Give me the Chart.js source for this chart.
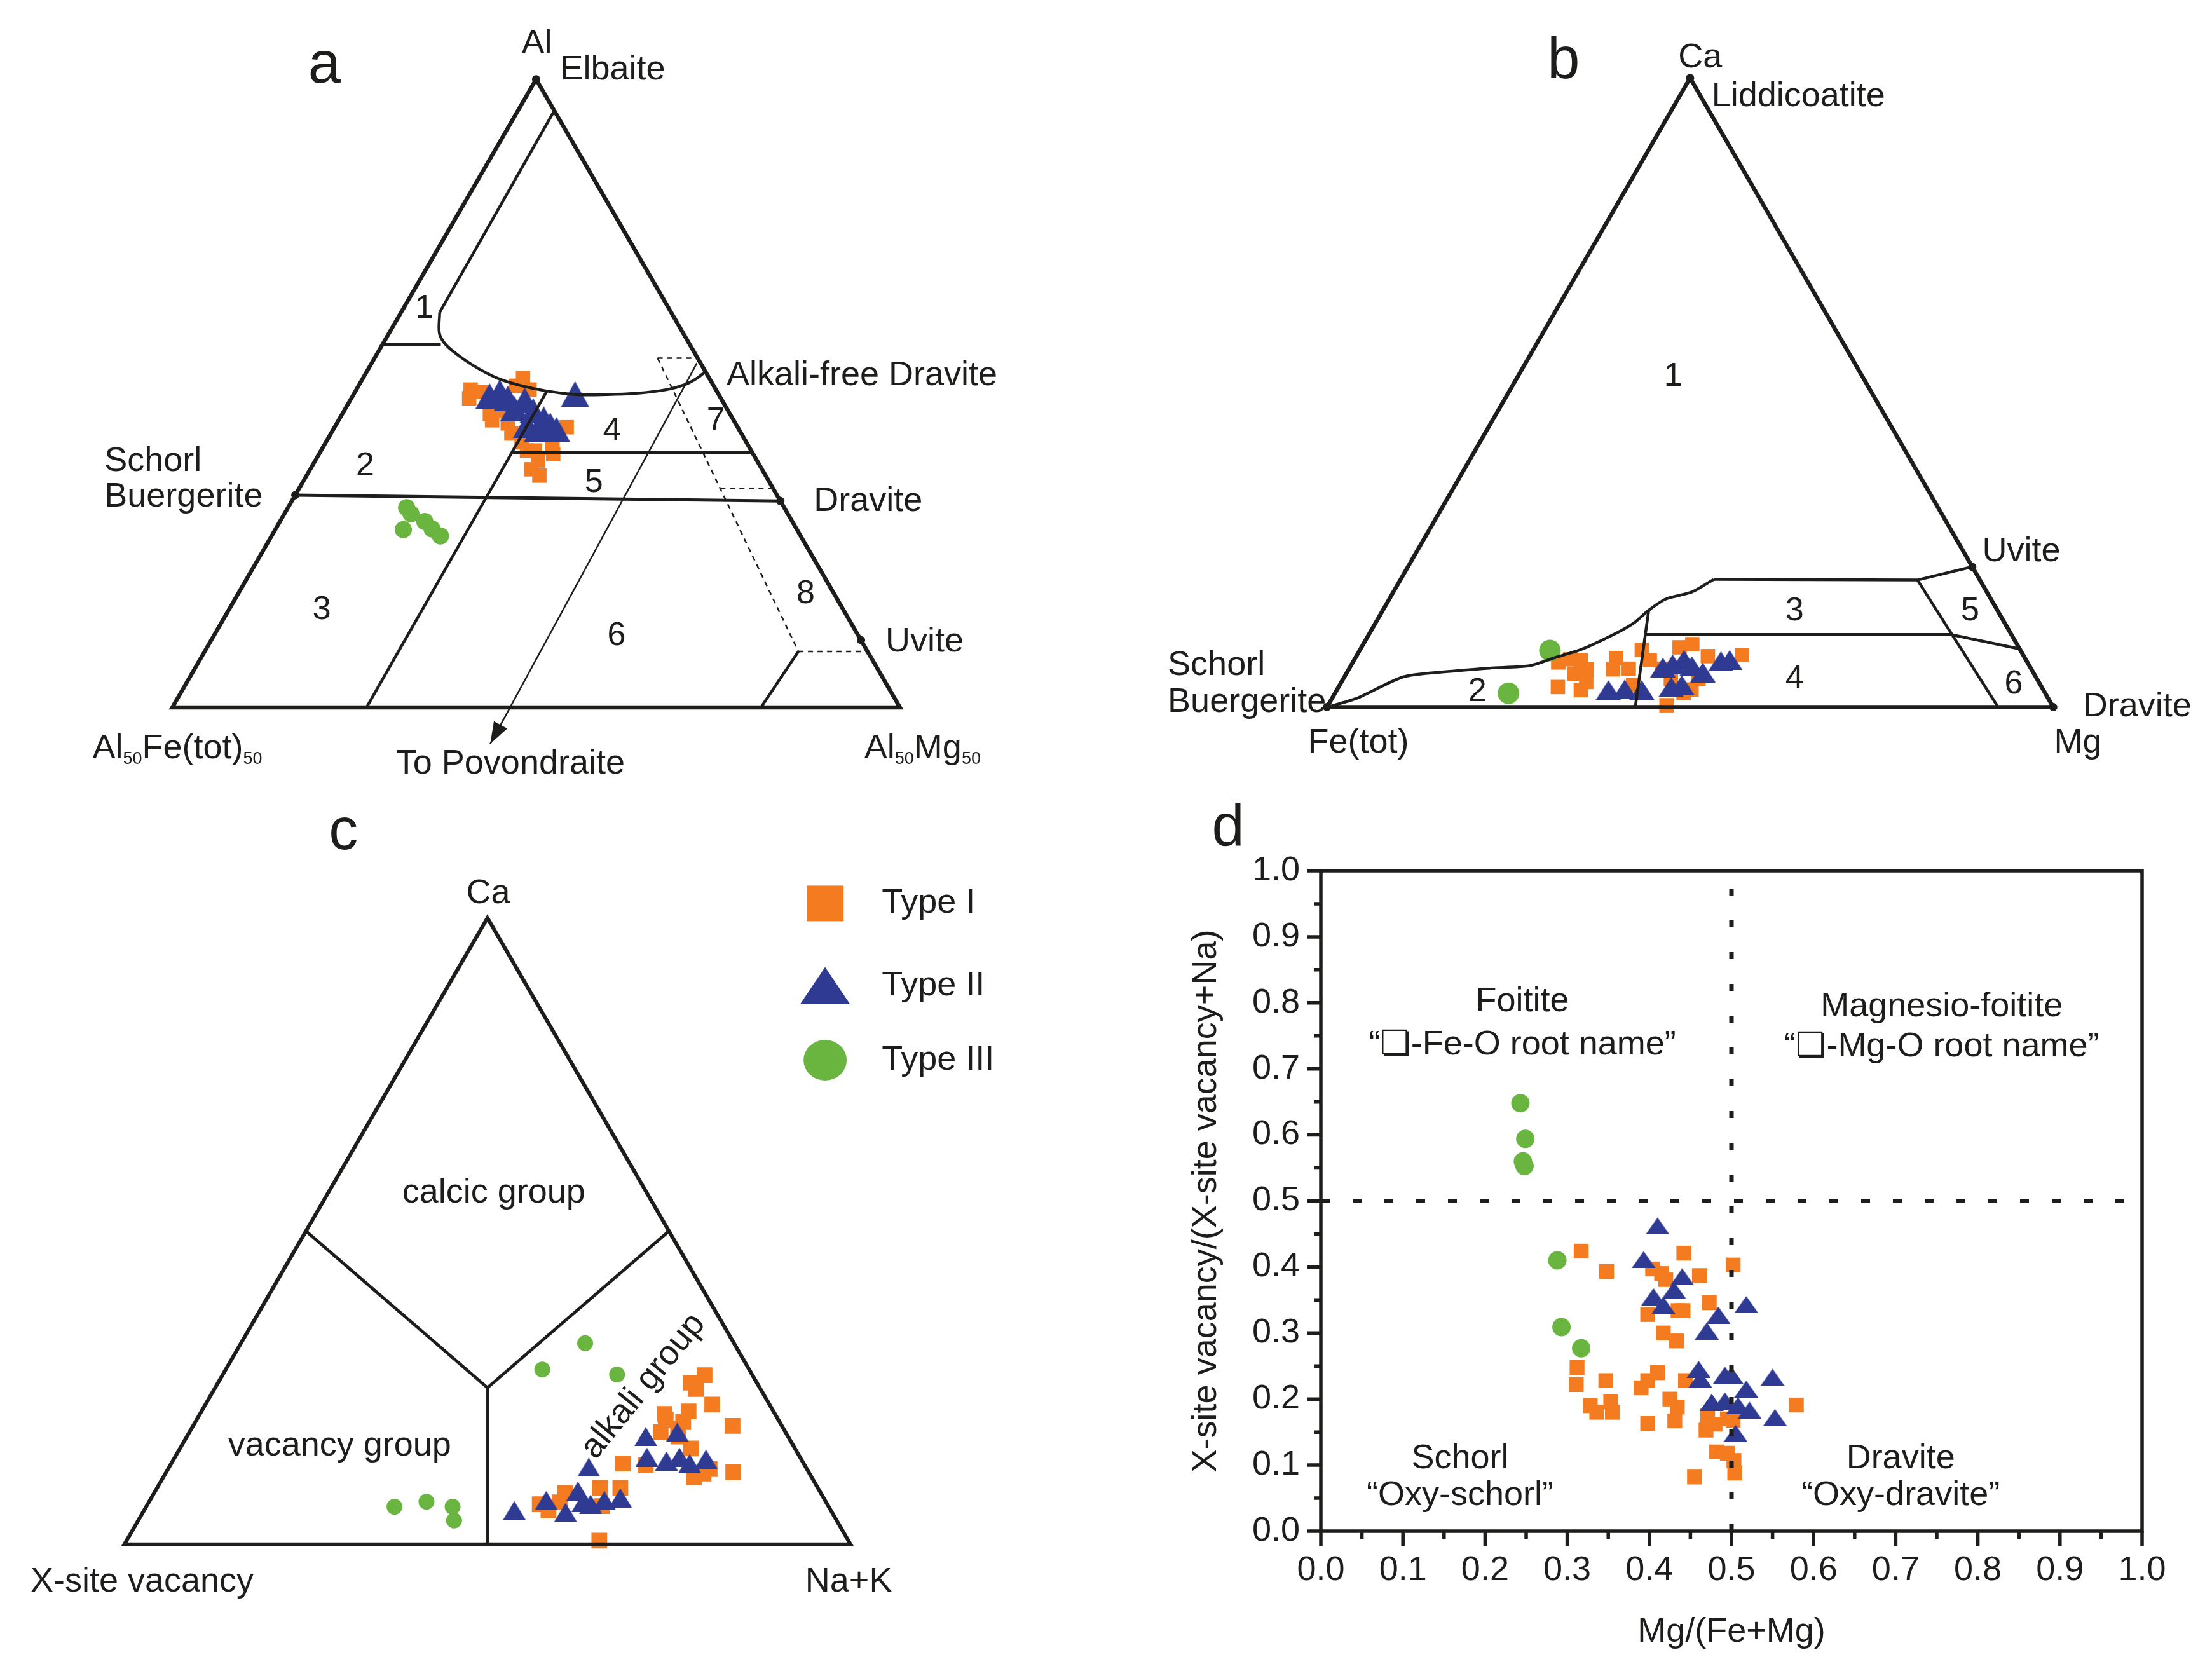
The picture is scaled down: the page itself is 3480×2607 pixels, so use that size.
<!DOCTYPE html>
<html>
<head>
<meta charset="utf-8">
<script src="https://cdn.jsdelivr.net/npm/chart.js@4/dist/chart.umd.min.js"></script>
<style>
  html, body { margin: 0; padding: 0; background: #fff; }
  #page { position: relative; width: 3480px; height: 2607px; overflow: hidden; background: #fff; }
  #page canvas { position: absolute; left: 0; top: 0; }
</style>
</head>
<body>
<div id="page">
  <canvas id="chartA" width="3480" height="2607"></canvas>
  <canvas id="chartB" width="3480" height="2607"></canvas>
  <canvas id="chartC" width="3480" height="2607"></canvas>
  <canvas id="chartD" width="3480" height="2607"></canvas>
</div>
<script>
const W = 3480, H = 2607;
const FONT = '"Liberation Sans", Arial, "DejaVu Sans", sans-serif';
const INK = '#1d1d1b';
const ORANGE = '#f47b20', BLUE = '#2f3b93', GREEN = '#6ab540';
const SQ3 = Math.sqrt(3) / 2;

// ---------- panel a : Al - Al50Fe(tot)50 - Al50Mg50, points as [Al, Al50Mg50]
const aTypeI = [[0.506,0.157],[0.492,0.162],[0.502,0.173],[0.467,0.203],[0.457,0.211],[0.452,0.235],[0.436,0.248],
  [0.524,0.220],[0.506,0.238],[0.422,0.269],[0.409,0.283],[0.413,0.316],[0.403,0.322],[0.393,0.306],[0.379,0.304],
  [0.369,0.320],[0.446,0.319],[0.472,0.214],[0.512,0.216],[0.409,0.294]];
const aTypeII = [[0.496,0.188],[0.502,0.199],[0.492,0.215],[0.476,0.232],[0.489,0.240],[0.472,0.260],[0.459,0.281],
  [0.449,0.295],[0.442,0.281],[0.449,0.263],[0.442,0.307],[0.499,0.304]];
const aTypeIII = [[0.318,0.163],[0.308,0.174],[0.283,0.176],[0.296,0.199],[0.284,0.215],[0.273,0.232]];
// field boundaries
const aEdge = [[0,0.5],[0,1],[1,0],[0,0],[0,0.5]];
const aLine1 = [[0.95,0.05],[0.629,0.053]];
const aCurve = [[0.629,0.053],[0.596,0.069],[0.580,0.084],[0.564,0.107],[0.544,0.142],[0.524,0.185],[0.512,0.224],
  [0.504,0.261],[0.498,0.306],[0.498,0.348],[0.500,0.388],[0.506,0.427],[0.514,0.448],[0.524,0.459],[0.534,0.465]];
const aField1 = [[0.578,0],[0.578,0.08]];
const aLine2 = [[0.503,0.263],[0,0.267]];
const aLine45 = [[0.406,0.265],[0.406,0.594]];
const aLine56 = [[0.338,0],[0.3285,0.6715]];
const aCorner = [[0,0.809],[0.089,0.816]];
const aDotted = [
  [[0.556,0.389],[0.556,0.444]],
  [[0.556,0.389],[0.089,0.816]],
  [[0.3485,0.579],[0.3485,0.6515]],
  [[0.089,0.816],[0.089,0.911]]
];
const aArrow = [[0.548,0.447],[-0.058,0.466]];
const aVertices = [[1,0],[0.338,0],[0.3285,0.6715],[0.107,0.893]];

// ---------- panel b : Ca - Fe(tot) - Mg, points as [Ca, Mg]
const bTypeI = [[0.071,0.283],[0.076,0.297],[0.075,0.312],[0.060,0.328],[0.040,0.337],[0.027,0.336],[0.053,0.314],
  [0.032,0.302],[0.078,0.359],[0.060,0.364],[0.091,0.388],[0.075,0.407],[0.061,0.431],[0.045,0.451],[0.095,0.438],
  [0.100,0.453],[0.028,0.488],[0.045,0.489],[0.003,0.466],[0.081,0.484],[0.083,0.530],[0.061,0.385],[0.035,0.404],
  [0.022,0.480]];
const bTypeII = [[0.027,0.374],[0.028,0.396],[0.027,0.420],[0.063,0.431],[0.068,0.442],[0.075,0.454],[0.065,0.470],
  [0.055,0.490],[0.032,0.458],[0.035,0.471],[0.073,0.506],[0.075,0.517]];
const bTypeIII = [[0.090,0.262],[0.022,0.239]];
const bEdge = [[0,0.5],[0,1],[1,0],[0,0],[0,0.5]];
const bCurve = [[0,0],[0.014,0.034],[0.048,0.081],[0.056,0.133],[0.062,0.193],[0.066,0.247],[0.078,0.273],
  [0.092,0.305],[0.118,0.340],[0.134,0.356],[0.154,0.366],[0.172,0.381],[0.183,0.411],[0.203,0.431]];
const bTop = [[0.203,0.431],[0.202,0.712],[0.223,0.777]];
const bVert = [[0.154,0.366],[0,0.4245]];
const bMid = [[0.1155,0.3795],[0.1155,0.801],[0.0924,0.9076]];
const bSlant = [[0.202,0.712],[0,0.924]];
const bVertices = [[1,0],[0,0],[0,1],[0.223,0.777]];

// ---------- panel c : Ca - X-site vacancy - Na+K, points as [Ca, Na+K]
const cTypeI = [[0.270,0.664],[0.258,0.651],[0.248,0.663],[0.223,0.698],[0.189,0.743],[0.208,0.640],[0.199,0.646],
  [0.195,0.672],[0.185,0.670],[0.179,0.649],[0.153,0.704],[0.129,0.622],[0.126,0.655],[0.120,0.746],[0.107,0.731],
  [0.115,0.781],[0.113,0.741],[0.090,0.610],[0.090,0.638],[0.082,0.566],[0.064,0.540],[0.054,0.557],[0.067,0.566],
  [0.061,0.627],[0.006,0.651],[0.172,0.677],[0.212,0.671]];
const cTypeII = [[0.054,0.510],[0.070,0.546],[0.051,0.582],[0.085,0.582],[0.123,0.578],[0.067,0.598],[0.070,0.626],
  [0.074,0.646],[0.172,0.632],[0.179,0.672],[0.139,0.650],[0.133,0.680],[0.139,0.695],[0.129,0.714],[0.136,0.733],
  [0.064,0.610]];
const cTypeIII = [[0.060,0.342],[0.068,0.382],[0.060,0.422],[0.038,0.435],[0.279,0.436],[0.321,0.474],[0.271,0.543]];
const cEdge = [[0,0.5],[0,1],[1,0],[0,0],[0,0.5]];
const cGroups = [[0.5,0],[0.25,0.375],[0.5,0.5]];
const cStem = [[0.25,0.375],[0,0.5]];
const legendNames = ['Type I', 'Type II', 'Type III'];

// ---------- panel d : Mg/(Fe+Mg) vs X-site vacancy/(X-site vacancy+Na)
const dTypeI = [[0.317,0.424],[0.348,0.393],[0.404,0.397],[0.415,0.390],[0.420,0.381],[0.442,0.421],[0.461,0.387],
  [0.502,0.403],[0.473,0.346],[0.398,0.328],[0.435,0.334],[0.441,0.334],[0.417,0.300],[0.433,0.288],[0.312,0.248],
  [0.311,0.222],[0.347,0.228],[0.328,0.190],[0.336,0.180],[0.353,0.196],[0.355,0.180],[0.390,0.217],[0.398,0.228],
  [0.410,0.240],[0.398,0.163],[0.425,0.200],[0.434,0.188],[0.431,0.167],[0.444,0.228],[0.471,0.175],[0.469,0.153],
  [0.480,0.162],[0.495,0.170],[0.502,0.168],[0.482,0.120],[0.495,0.118],[0.503,0.107],[0.504,0.088],[0.455,0.082],
  [0.579,0.191]];
const dTypeII = [[0.410,0.462],[0.393,0.411],[0.440,0.385],[0.405,0.355],[0.417,0.342],[0.430,0.365],[0.518,0.343],
  [0.484,0.327],[0.470,0.303],[0.460,0.245],[0.462,0.230],[0.492,0.236],[0.500,0.236],[0.550,0.233],[0.518,0.215],
  [0.476,0.195],[0.492,0.197],[0.508,0.190],[0.522,0.183],[0.553,0.172],[0.505,0.148]];
const dTypeIII = [[0.243,0.648],[0.249,0.594],[0.246,0.560],[0.248,0.553],[0.288,0.410],[0.293,0.309],[0.317,0.277]];
const dTickLabels = ['0.0','0.1','0.2','0.3','0.4','0.5','0.6','0.7','0.8','0.9','1.0'];
const dSplitX = [[0.5,0],[0.5,1]];
const dSplitY = [[0,0.5],[1,0.5]];

// ternary [top, right] -> triangle units (base 0..1, apex height sqrt(3)/2)
function tern(pts) {
  return pts.map(([top, right]) => ({ x: right + top / 2, y: top * SQ3 }));
}
function xy(pts) {
  return pts.map(([x, y]) => ({ x, y }));
}

function triMarker(w, h, color) {
  const c = document.createElement('canvas');
  c.width = w; c.height = h;
  const g = c.getContext('2d');
  g.fillStyle = color;
  g.beginPath();
  g.moveTo(w / 2, 0); g.lineTo(w, h); g.lineTo(0, h);
  g.closePath(); g.fill();
  return c;
}

function markers(data, color, style, radius, order) {
  return { data, pointStyle: style, pointRadius: radius, pointBackgroundColor: color,
    pointBorderWidth: 0, pointBorderColor: color, showLine: false, order };
}
function line(data, extra) {
  return Object.assign({ data, showLine: true, pointRadius: 0, borderColor: INK, borderWidth: 4.5,
    tension: 0, fill: false, order: 0, borderJoinStyle: 'miter' }, extra || {});
}

// text drawn at data positions
function textPlugin(items) {
  return {
    id: 'texts',
    afterDatasetsDraw(chart) {
      const { ctx, scales: { x, y } } = chart;
      items.forEach(it => {
        const size = it.size || 54;
        const parts = it.parts || [[it.text, false]];
        ctx.save();
        ctx.translate(x.getPixelForValue(it.x), y.getPixelForValue(it.y));
        if (it.rotate) ctx.rotate(it.rotate * Math.PI / 180);
        ctx.fillStyle = INK;
        ctx.textBaseline = 'middle';
        ctx.textAlign = 'left';
        let total = 0;
        parts.forEach(([t, sub]) => { ctx.font = `${sub ? size * 0.5 : size}px ${FONT}`; total += ctx.measureText(t).width; });
        let cx = it.align === 'left' ? 0 : (it.align === 'right' ? -total : -total / 2);
        parts.forEach(([t, sub]) => {
          ctx.font = `${sub ? size * 0.5 : size}px ${FONT}`;
          ctx.fillText(t, cx, sub ? size * 0.3 : 0);
          cx += ctx.measureText(t).width;
        });
        ctx.restore();
      });
    }
  };
}

// arrowhead at the end of a dataset line
function arrowPlugin(index) {
  return {
    id: 'arrowhead',
    afterDatasetsDraw(chart) {
      const pts = chart.getDatasetMeta(index).data;
      const p1 = pts[pts.length - 2], p2 = pts[pts.length - 1];
      const ang = Math.atan2(p2.y - p1.y, p2.x - p1.x);
      const ctx = chart.ctx;
      ctx.save();
      ctx.translate(p2.x, p2.y);
      ctx.rotate(ang);
      ctx.fillStyle = INK;
      ctx.beginPath();
      ctx.moveTo(0, 0); ctx.lineTo(-34, -12); ctx.lineTo(-34, 12);
      ctx.closePath(); ctx.fill();
      ctx.restore();
    }
  };
}

function ternaryOptions(left, base, kx, ky) {
  return {
    responsive: false, animation: false, devicePixelRatio: 1,
    layout: { padding: 0 },
    plugins: { legend: { display: false }, tooltip: { enabled: false } },
    scales: {
      x: { type: 'linear', display: false, min: -left / kx, max: (W - left) / kx },
      y: { type: 'linear', display: false, min: -(H - base) / ky, max: base / ky }
    }
  };
}

function vertexDots(pts) {
  return { data: tern(pts), pointRadius: 6.5, pointBackgroundColor: INK, pointBorderWidth: 0, showLine: false, order: 0 };
}

// ================= panel a
const aDatasets = [
  line(tern(aEdge), { borderWidth: 6.5 }),
  line(tern(aLine1)),
  line(tern(aCurve), { tension: 0.35 }),
  line(tern(aField1)),
  line(tern(aLine2)),
  line(tern(aLine45)),
  line(tern(aLine56), { borderWidth: 5 }),
  line(tern(aCorner)),
  ...aDotted.map(seg => line(tern(seg), { borderWidth: 2.5, borderDash: [8, 7] })),
  line(tern(aArrow), { borderWidth: 2.5 }),
  vertexDots(aVertices),
  markers(tern(aTypeIII), GREEN, 'circle', 13.5, 1),
  markers(tern(aTypeII), BLUE, triMarker(44, 40, BLUE), 20, 2),
  markers(tern(aTypeI), ORANGE, 'rect', 16, 3)
];
const aArrowIndex = 8 + aDotted.length;
new Chart(document.getElementById('chartA'), {
  type: 'scatter',
  data: { datasets: aDatasets },
  options: ternaryOptions(254, 1110, 1158, 1159),
  plugins: [arrowPlugin(aArrowIndex), textPlugin([
    { x: 0.209, y: 0.8835, text: 'a', size: 92 },
    { x: 0.5009, y: 0.9146, text: 'Al' },
    { x: 0.6054, y: 0.8792, text: 'Elbaite' },
    { x: 0.3463, y: 0.5496, text: '1', size: 52 },
    { x: 0.2651, y: 0.3322, text: '2', size: 52 },
    { x: 0.2055, y: 0.1346, text: '3', size: 52 },
    { x: 0.6045, y: 0.3805, text: '4', size: 52 },
    { x: 0.5794, y: 0.3097, text: '5', size: 52 },
    { x: 0.6105, y: 0.0984, text: '6', size: 52 },
    { x: 0.747, y: 0.3943, text: '7', size: 52 },
    { x: 0.8705, y: 0.1562, text: '8', size: 52 },
    { x: 0.7617, y: 0.4573, text: 'Alkali-free Dravite', align: 'left' },
    { x: -0.0933, y: 0.3391, text: 'Schorl', align: 'left' },
    { x: -0.0933, y: 0.2899, text: 'Buergerite', align: 'left' },
    { x: 0.8817, y: 0.2839, text: 'Dravite', align: 'left' },
    { x: 0.9801, y: 0.0897, text: 'Uvite', align: 'left' },
    { x: 0.0069, y: -0.0570, parts: [['Al', false], ['50', true], ['Fe(tot)', false], ['50', true]] },
    { x: 0.4646, y: -0.0780, text: 'To Povondraite' },
    { x: 1.0311, y: -0.0570, parts: [['Al', false], ['50', true], ['Mg', false], ['50', true]] }
  ])]
});

// ================= panel b
new Chart(document.getElementById('chartB'), {
  type: 'scatter',
  data: { datasets: [
    line(tern(bEdge), { borderWidth: 6.5 }),
    line(tern(bCurve), { tension: 0.25 }),
    line(tern(bTop)),
    line(tern(bVert)),
    line(tern(bMid)),
    line(tern(bSlant)),
    vertexDots(bVertices),
    markers(tern(bTypeIII), GREEN, 'circle', 17, 1),
    markers(tern(bTypeII), BLUE, triMarker(40, 31, BLUE), 17, 2),
    markers(tern(bTypeI), ORANGE, 'rect', 16, 3)
  ] },
  options: ternaryOptions(2091, 1110, 1154, 1158),
  plugins: [textPlugin([
    { x: 0.3258, y: 0.8877, text: 'b', size: 92 },
    { x: 0.5139, y: 0.8938, text: 'Ca' },
    { x: 0.5295, y: 0.8402, text: 'Liddicoatite', align: 'left' },
    { x: 0.4766, y: 0.4551, text: '1', size: 52 },
    { x: 0.2071, y: 0.0207, text: '2', size: 52 },
    { x: 0.6438, y: 0.1321, text: '3', size: 52 },
    { x: 0.6438, y: 0.0380, text: '4', size: 52 },
    { x: 0.8856, y: 0.1321, text: '5', size: 52 },
    { x: 0.9454, y: 0.0311, text: '6', size: 52 },
    { x: 0.9021, y: 0.2142, text: 'Uvite', align: 'left' },
    { x: 1.0407, y: 0.0000, text: 'Dravite', align: 'left' },
    { x: 1.0338, y: -0.0492, text: 'Mg' },
    { x: 0.0433, y: -0.0492, text: 'Fe(tot)' },
    { x: -0.2192, y: 0.0570, text: 'Schorl', align: 'left' },
    { x: -0.2192, y: 0.0069, text: 'Buergerite', align: 'left' }
  ])]
});

// ================= panel c
const legendPlugin = {
  id: 'typeLegend',
  afterDraw(chart) {
    const { ctx, scales: { x, y } } = chart;
    const mx = x.getPixelForValue(0.965);
    const rows = [0.886, 0.7716, 0.6693].map(v => y.getPixelForValue(v));
    ctx.save();
    ctx.fillStyle = ORANGE;
    ctx.fillRect(mx - 29, rows[0] - 28, 58, 56);
    ctx.fillStyle = BLUE;
    ctx.beginPath();
    ctx.moveTo(mx, rows[1] - 30); ctx.lineTo(mx + 39, rows[1] + 28); ctx.lineTo(mx - 39, rows[1] + 28);
    ctx.closePath(); ctx.fill();
    ctx.fillStyle = GREEN;
    ctx.beginPath();
    ctx.ellipse(mx, rows[2], 34, 32, 0, 0, Math.PI * 2);
    ctx.fill();
    ctx.fillStyle = INK;
    ctx.font = `54px ${FONT}`;
    ctx.textBaseline = 'middle';
    ctx.textAlign = 'left';
    legendNames.forEach((n, i) => ctx.fillText(n, x.getPixelForValue(1.043), rows[i]));
    ctx.restore();
  }
};
new Chart(document.getElementById('chartC'), {
  type: 'scatter',
  data: { datasets: [
    line(tern(cEdge), { borderWidth: 6 }),
    line(tern(cGroups), { borderWidth: 5 }),
    line(tern(cStem), { borderWidth: 5 }),
    markers(tern(cTypeIII), GREEN, 'circle', 12.5, 1),
    markers(tern(cTypeII), BLUE, triMarker(36, 30, BLUE), 17, 2),
    markers(tern(cTypeI), ORANGE, 'rect', 17.5, 3)
  ] },
  options: ternaryOptions(180, 2445, 1154, 1153.5),
  plugins: [legendPlugin, textPlugin([
    { x: 0.3016, y: 0.9831, text: 'c', size: 92 },
    { x: 0.5009, y: 0.8990, text: 'Ca' },
    { x: 0.5087, y: 0.4855, text: 'calcic group' },
    { x: 0.2964, y: 0.1361, text: 'vacancy group' },
    { x: 0.7149, y: 0.2185, text: 'alkali group', rotate: -51 },
    { x: 0.0243, y: -0.0520, text: 'X-site vacancy' },
    { x: 0.9974, y: -0.0520, text: 'Na+K' }
  ])]
});

// ================= panel d
const frameTicks = {
  id: 'frameTicks',
  afterDraw(chart) {
    const { ctx, chartArea: a, scales: { x, y } } = chart;
    ctx.save();
    ctx.strokeStyle = INK;
    ctx.lineWidth = 5.5;
    ctx.strokeRect(a.left, a.top, a.right - a.left, a.bottom - a.top);
    ctx.beginPath();
    for (let i = 0; i <= 20; i++) {
      const major = i % 2 === 0;
      const px = x.getPixelForValue(i / 20), py = y.getPixelForValue(i / 20);
      ctx.moveTo(px, a.bottom); ctx.lineTo(px, a.bottom + (major ? 23 : 12));
      ctx.moveTo(a.left, py); ctx.lineTo(a.left - (major ? 21 : 11), py);
    }
    ctx.stroke();
    ctx.restore();
  }
};
const axisFont = { family: FONT, size: 54 };
new Chart(document.getElementById('chartD'), {
  type: 'scatter',
  data: { datasets: [
    line(xy(dSplitX), { borderWidth: 7, borderDash: [11, 39] }),
    line(xy(dSplitY), { borderWidth: 6, borderDash: [14, 36] }),
    markers(xy(dTypeIII), GREEN, 'circle', 14.5, 1),
    markers(xy(dTypeII), BLUE, triMarker(38, 27, BLUE), 16, 2),
    markers(xy(dTypeI), ORANGE, 'rect', 16.5, 3)
  ] },
  options: {
    responsive: false, animation: false, devicePixelRatio: 1,
    layout: { padding: { left: 1862, right: 110, top: 1370, bottom: 2 } },
    plugins: { legend: { display: false }, tooltip: { enabled: false } },
    scales: {
      x: {
        type: 'linear', min: 0, max: 1,
        afterFit: s => { s.height = 196; },
        border: { display: false },
        grid: { display: false, drawTicks: false },
        ticks: { stepSize: 0.1, autoSkip: false, maxRotation: 0, padding: 30, color: INK, font: axisFont,
          callback: v => dTickLabels[Math.round(v * 10)] },
        title: { display: true, text: 'Mg/(Fe+Mg)', color: INK, font: axisFont, padding: { top: 4, bottom: 4 } }
      },
      y: {
        type: 'linear', min: 0, max: 1,
        afterFit: s => { s.width = 216; },
        border: { display: false },
        grid: { display: false, drawTicks: false },
        ticks: { stepSize: 0.1, autoSkip: false, padding: 33, color: INK, font: axisFont,
          callback: v => dTickLabels[Math.round(v * 10)] },
        title: { display: true, text: 'X-site vacancy/(X-site vacancy+Na)', color: INK, font: axisFont, padding: { top: 4, bottom: 4 } }
      }
    }
  },
  plugins: [frameTicks, textPlugin([
    { x: -0.113, y: 1.0626, text: 'd', size: 92 },
    { x: 0.2454, y: 0.8017, text: 'Foitite' },
    { x: 0.2454, y: 0.7363, text: '\u201C\u274F-Fe-O root name\u201D' },
    { x: 0.7560, y: 0.7935, text: 'Magnesio-foitite' },
    { x: 0.7560, y: 0.7329, text: '\u201C\u274F-Mg-O root name\u201D' },
    { x: 0.1695, y: 0.1099, text: 'Schorl' },
    { x: 0.1695, y: 0.0534, text: '\u201COxy-schorl\u201D' },
    { x: 0.7060, y: 0.1099, text: 'Dravite' },
    { x: 0.7060, y: 0.0534, text: '\u201COxy-dravite\u201D' }
  ])]
});
</script>
</body>
</html>
